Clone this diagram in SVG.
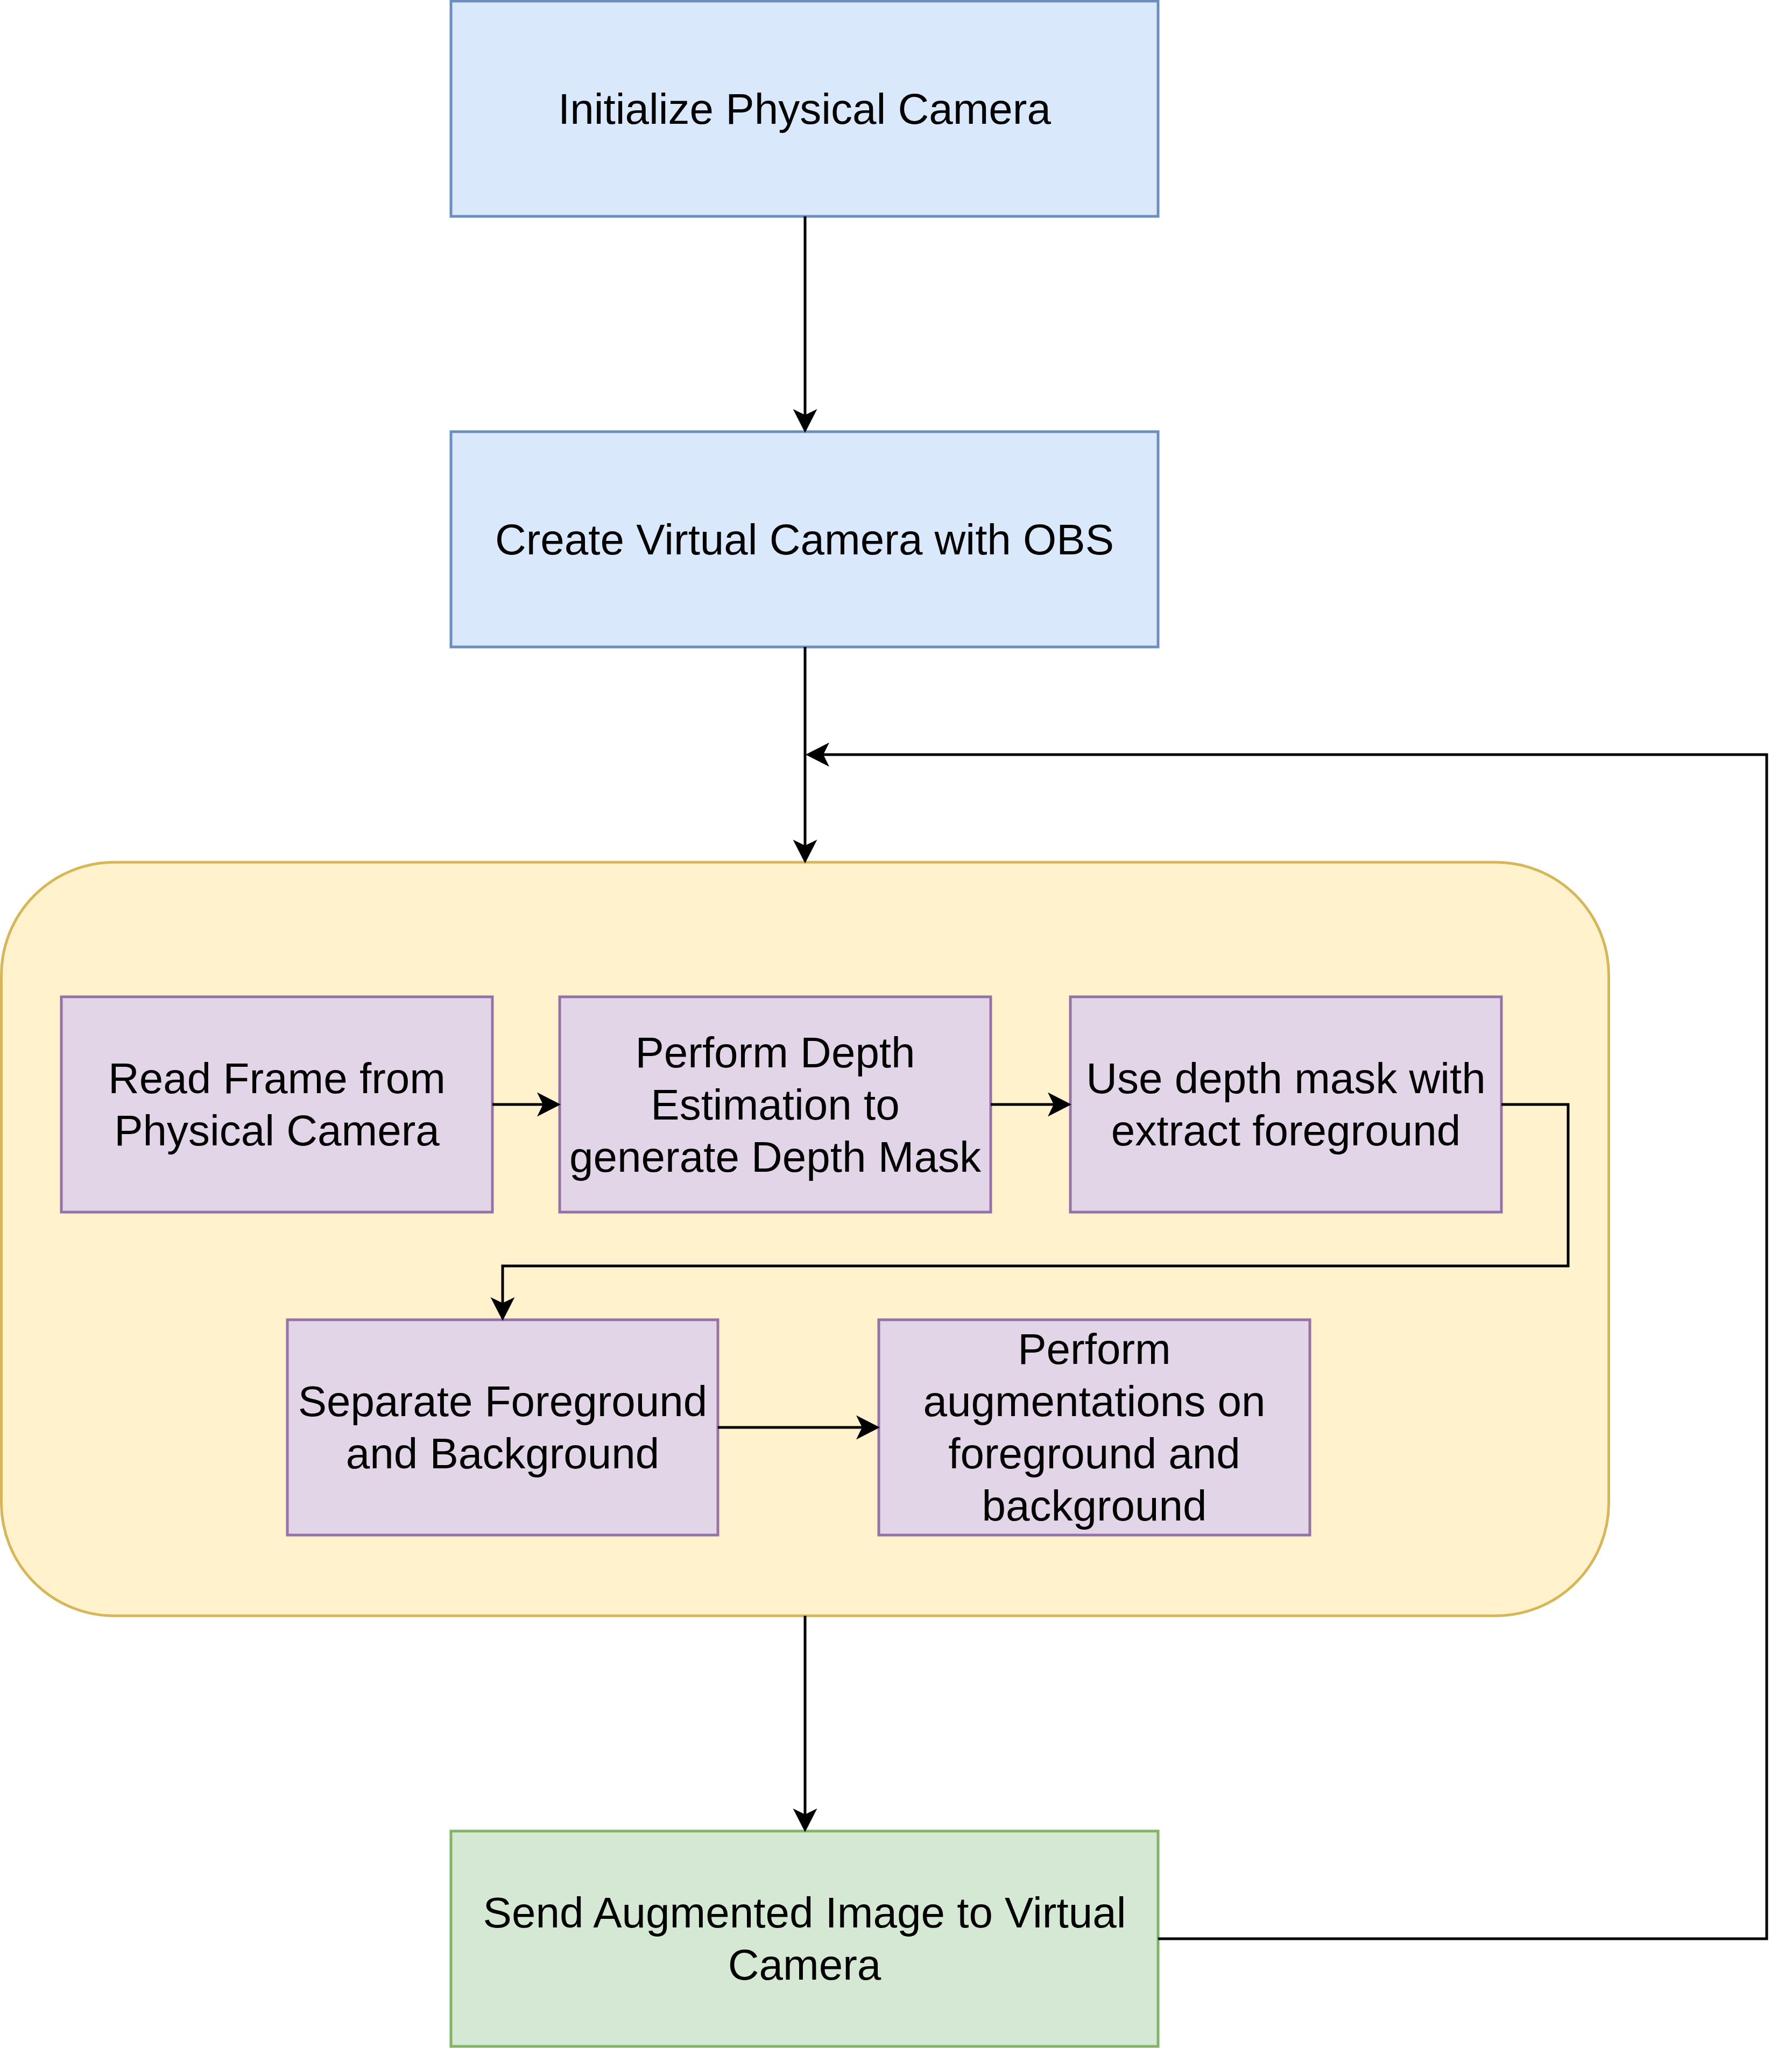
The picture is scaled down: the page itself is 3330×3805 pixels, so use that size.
<svg xmlns="http://www.w3.org/2000/svg" width="3330" height="3805" viewBox="0 0 3330 3805">
<style>
.t{font-family:"Liberation Sans",Arial,sans-serif;font-size:80px;fill:#000;text-anchor:middle}
.blue{fill:#dae8fc;stroke:#6c8ebf;stroke-width:5}
.yel{fill:#fff2cc;stroke:#d6b656;stroke-width:5}
.pur{fill:#e1d5e7;stroke:#9673a6;stroke-width:5}
.grn{fill:#d5e8d4;stroke:#82b366;stroke-width:5}
.c{fill:none;stroke:#000;stroke-width:5}
.a{marker-end:url(#arr)}
</style>
<defs>
<marker id="arr" viewBox="-12 -24 46 48" refX="0" refY="0" markerWidth="46" markerHeight="48" markerUnits="userSpaceOnUse" orient="auto" overflow="visible">
<path d="M33,0 L-11,-22.5 L0,0 L-11,22.5 Z" fill="#000"/>
</marker>
</defs>
<rect width="3330" height="3805" fill="#fff"/>
<g id="group">
<rect class="yel" x="2.5" y="1602" width="2987" height="1400" rx="210" ry="210"/>
</g>
<g id="init">
<rect class="blue" x="838" y="2" width="1314" height="400"/>
<text class="t" x="1495" y="230">Initialize Physical Camera</text>
</g>
<g id="virtual">
<rect class="blue" x="838" y="802" width="1314" height="400"/>
<text class="t" x="1495" y="1030">Create Virtual Camera with OBS</text>
</g>
<g id="read">
<rect class="pur" x="114" y="1852" width="801" height="400"/>
<text class="t" x="514.5" y="2031">Read Frame from</text>
<text class="t" x="514.5" y="2128">Physical Camera</text>
</g>
<g id="depth">
<rect class="pur" x="1040" y="1852" width="801" height="400"/>
<text class="t" x="1440.5" y="1983">Perform Depth</text>
<text class="t" x="1440.5" y="2080">Estimation to</text>
<text class="t" x="1440.5" y="2177">generate Depth Mask</text>
</g>
<g id="mask">
<rect class="pur" x="1989" y="1852" width="801" height="400"/>
<text class="t" x="2389.5" y="2031">Use depth mask with</text>
<text class="t" x="2389.5" y="2128">extract foreground</text>
</g>
<g id="separate">
<rect class="pur" x="534" y="2452" width="800" height="400"/>
<text class="t" x="934" y="2631">Separate Foreground</text>
<text class="t" x="934" y="2728">and Background</text>
</g>
<g id="augment">
<rect class="pur" x="1633" y="2452" width="801" height="400"/>
<text class="t" x="2033.5" y="2534">Perform</text>
<text class="t" x="2033.5" y="2631">augmentations on</text>
<text class="t" x="2033.5" y="2728">foreground and</text>
<text class="t" x="2033.5" y="2825">background</text>
</g>
<g id="send">
<rect class="grn" x="838" y="3402" width="1314" height="400"/>
<text class="t" x="1495" y="3581">Send Augmented Image to Virtual</text>
<text class="t" x="1495" y="3678">Camera</text>
</g>
<g id="connectors">
<path class="c a" d="M1496,402 L1496,771"/>
<path class="c a" d="M1496,1202 L1496,1571"/>
<path class="c a" d="M915,2052 L1009,2052"/>
<path class="c a" d="M1841,2052 L1958,2052"/>
<path class="c a" d="M2790,2052 L2914,2052 L2914,2352 L934,2352 L934,2421"/>
<path class="c a" d="M1334,2652 L1602,2652"/>
<path class="c a" d="M1496,3002 L1496,3371"/>
<path class="c a" d="M2152,3602 L3283,3602 L3283,1402 L1530,1402"/>
</g>
</svg>
